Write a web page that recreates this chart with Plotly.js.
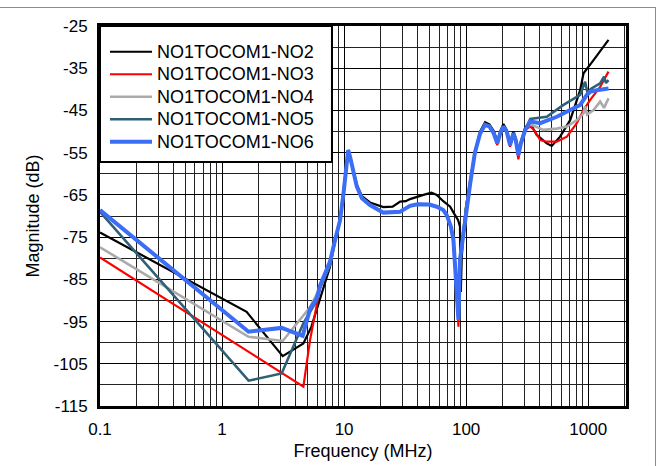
<!DOCTYPE html>
<html><head><meta charset="utf-8">
<script src="https://cdn.plot.ly/plotly-3.0.1.min.js"></script>
<style>
html,body{margin:0;padding:0;background:#fff}
#wrap{position:relative;width:658px;height:466px;overflow:hidden}
#chart{position:absolute;left:0;top:0;width:658px;height:466px}
#ft{position:absolute;left:0;top:7px;width:656px;height:1px;background:#8c8c8c}
#fr{position:absolute;left:655px;top:7px;width:1px;height:459px;background:#8c8c8c}
</style></head><body>
<div id="wrap"><div id="chart"></div><div id="ft"></div><div id="fr"></div></div>
<script>
// ---- data (frequency in MHz, magnitude in dB) ----
const seriesNames = ['NO1TOCOM1-NO2','NO1TOCOM1-NO3','NO1TOCOM1-NO4','NO1TOCOM1-NO5','NO1TOCOM1-NO6'];

const freqNO2 = [0.1,1.59,3.14,4.64,5.4,6.35,7.67,8.43,9.27,9.9,10.5,10.8,11.2,11.9,12.7,14,16.3,21,25,28.8,32,34.7,40,44.7,52,57.5,65,74,80,86,89,90.5,92,95,100,108,118,130,143,155,168,180,190,202,215,229,244,255,268,280,305,335,379,458,503,589,712,860,916,1107,1468];
const magNO2  = [-73.9,-92.7,-103.2,-100.2,-96.2,-89.9,-82,-76,-71,-64.6,-57.5,-54.6,-56,-59,-62.5,-65.3,-66.8,-67.9,-67.8,-66.6,-66.5,-66,-65.4,-65,-64.5,-65,-66.5,-67.8,-69.5,-71,-72.5,-88,-80,-74,-67.5,-62,-54.8,-50,-47.8,-48.3,-49.8,-52.2,-50,-48.2,-49.6,-52.8,-50,-51.6,-55,-52.5,-49,-48,-50.8,-52.8,-53.4,-51.2,-47.3,-40.2,-36.2,-33.1,-28.3];

const freqNO3 = [0.1,4.64,5.26,5.97,6.35,7.67,8.43,9.27,9.9,10.5,10.8,11.2,11.9,12.7,14,16.3,21,25,28.8,32,34.7,40,44.7,50,57.5,65,69.4,75,78.7,83,86.5,89,95,100,108,118,130,143,155,168,180,190,202,215,229,244,255,268,280,305,335,360,405,458,553,669,807,916,1039,1253,1468];
const magNO3  = [-79.8,-110.4,-99.4,-90.7,-87,-81.2,-75.8,-71,-64.6,-57.5,-54.4,-56,-59.1,-63,-65.8,-67.4,-69.2,-69.2,-69,-68.2,-67.6,-67.2,-67.2,-67.3,-67.8,-68.6,-69.8,-72.5,-75.7,-85,-96.2,-80.4,-74.1,-68,-62.3,-55,-50.5,-48.4,-48.8,-50.4,-53.2,-50.5,-48.8,-50,-53.6,-50.4,-52.4,-56.6,-53.2,-49.6,-48.8,-49.6,-52,-52.4,-52.4,-51.2,-48,-44.9,-42.5,-39.4,-35.8];

const freqNO4 = [0.1,1.65,3.14,5.26,6.35,7.67,8.43,9.27,9.9,10.5,10.8,11.2,11.9,12.7,14,16.3,21,25,28.8,32,34.7,40,44.7,50,57.5,65,69.4,75,78.7,83,86.5,89,95,100,108,118,130,143,155,168,180,190,202,215,229,244,255,268,280,305,335,431,553,669,807,916,944,980,1107,1253,1350,1468];
const magNO4  = [-77.4,-98.6,-99.6,-91.6,-87,-81.5,-75.8,-71,-64.6,-57.5,-54.4,-56,-59.1,-63,-65.8,-67.4,-69.2,-69.2,-69,-68.2,-67.6,-67.2,-67.2,-67.3,-67.8,-68.6,-69.8,-72.5,-75.7,-85,-94.6,-80.4,-74.1,-68,-62.3,-55,-50.5,-48.4,-48.8,-50.4,-52.8,-50.5,-48.8,-50,-53.2,-50.4,-52,-55.6,-53,-49.6,-48.3,-49.6,-49.3,-48.8,-47.3,-45.7,-44,-46,-44.9,-42.9,-44.4,-42.1];

const freqNO5 = [0.1,1.65,3.08,4.64,5.97,6.35,7.67,8.43,9.27,9.9,10.5,10.8,11.2,11.9,12.7,14,16.3,21,25,28.8,32,34.7,40,44.7,50,57.5,65,69.4,75,78.7,83,86.5,89,95,100,108,118,130,143,155,168,180,190,202,215,229,244,255,268,280,305,335,458,628,860,944,990,1050,1253,1350,1400,1468];
const magNO5  = [-69,-109,-107.3,-95.4,-90,-87,-81.5,-75.8,-71,-64.6,-57.5,-54.4,-56,-59.1,-63,-65.8,-67.4,-69.2,-69.2,-69,-68.2,-67.6,-67.2,-67.2,-67.3,-67.8,-68.6,-69.8,-72.5,-75.7,-85,-94.6,-80.4,-74.1,-68,-62.3,-55,-50.5,-48.4,-48.8,-50.4,-52.8,-50.5,-48.8,-50,-53.2,-50.4,-52,-55.6,-53,-49.6,-47,-46.5,-43.7,-41.3,-38.2,-41,-39.9,-38.6,-37,-38.5,-37.8];

const freqNO6 = [0.1,1.65,3.08,4.58,5.26,5.97,6.35,7.67,8.43,9.27,9.9,10.5,10.8,11.2,11.9,12.7,14,16.3,21,25,28.8,32,34.7,40,44.7,50,57.5,65,69.4,75,78.7,83,86.5,89,95,100,108,118,130,143,155,168,180,190,202,215,229,244,255,268,280,305,335,405,554,712,860,975,1050,1175,1468];
const magNO6  = [-68.6,-97.4,-96.5,-98.4,-92,-89.5,-86.5,-80.8,-75.7,-71,-64.6,-57.5,-54.4,-56,-59.1,-63,-65.8,-67.4,-69.2,-69.2,-69,-68.2,-67.6,-67.2,-67.2,-67.3,-67.8,-68.6,-69.8,-72.5,-75.7,-85,-94.6,-80.4,-74.1,-68,-62.3,-55,-50.5,-48.4,-48.8,-50.4,-52.8,-50.5,-48.8,-50,-53.2,-50.4,-52,-55.6,-53,-49.6,-47.6,-48,-46.5,-44.9,-43.7,-41.3,-40.5,-40.2,-39.8];

const xTickVals = [0.1, 1, 10, 100, 1000];
const xTickText = ['0.1', '1', '10', '100', '1000'];
const yTickVals = [-25, -35, -45, -55, -65, -75, -85, -95, -105, -115];
const yTickText = ['-25', '-35', '-45', '-55', '-65', '-75', '-85', '-95', '-105', '-115'];

// ---- styles ----
const seriesFreqs = [freqNO2, freqNO3, freqNO4, freqNO5, freqNO6];
const seriesMags  = [magNO2, magNO3, magNO4, magNO5, magNO6];
const seriesColors = ['#000000', '#ff0000', '#aaaaaa', '#2f6075', '#3b6ef5'];
const seriesWidths = [2.2, 2.2, 2.6, 2.6, 4];

const minorX = [];
for (let d = -1; d <= 3; d++) {
  for (let k = 2; k <= 9; k++) minorX.push(k * Math.pow(10, d));
}

const FONT = 'Liberation Sans, Arial, Helvetica, sans-serif';

const traces = seriesNames.map((n, i) => ({
  type: 'scatter', mode: 'lines',
  x: seriesFreqs[i], y: seriesMags[i],
  name: '<span style="font-size:18px">' + n + '</span>',
  line: {color: seriesColors[i], width: seriesWidths[i]}
}));

const layout = {
  width: 658, height: 466,
  margin: {l: 100, r: 32, t: 26, b: 60},
  paper_bgcolor: 'rgba(0,0,0,0)',
  plot_bgcolor: '#ffffff',
  font: {family: FONT, size: 17, color: '#000'},
  showlegend: true,
  legend: {
    x: 0.0095, y: 0.975, xanchor: 'left', yanchor: 'top',
    bgcolor: 'rgba(0,0,0,0)', borderwidth: 0,
    font: {family: FONT, size: 15, color: '#000'},
    itemwidth: 42
  },
  xaxis: {
    type: 'log', range: [-1, 3.31],
    tickmode: 'array', tickvals: xTickVals, ticktext: xTickText,
    ticks: '', ticklabelstandoff: 6,
    showgrid: true, gridcolor: '#000', gridwidth: 1,
    minor: {tickmode: 'array', tickvals: minorX, showgrid: true, gridcolor: '#222', gridwidth: 1, ticks: ''},
    showline: true, mirror: true, linecolor: '#000', linewidth: 3,
    zeroline: false,
    title: {text: 'Frequency (MHz)', font: {family: FONT, size: 18}, standoff: 6}
  },
  yaxis: {
    range: [-115, -25],
    tickmode: 'array', tickvals: yTickVals, ticktext: yTickText,
    ticks: '', ticklabelstandoff: 6,
    showgrid: true, gridcolor: '#000', gridwidth: 1,
    minor: {tickmode: 'linear', tick0: -25, dtick: 5, showgrid: true, gridcolor: '#222', gridwidth: 1, ticks: ''},
    showline: true, mirror: true, linecolor: '#000', linewidth: 3,
    zeroline: false,
    title: {text: 'Magnitude (dB)', font: {family: FONT, size: 18}, standoff: 10}
  },
  shapes: [{
    type: 'rect', xref: 'paper', yref: 'paper',
    x0: 0, x1: 0.441, y0: 0.642, y1: 1,
    fillcolor: '#ffffff', line: {color: '#000', width: 2}, layer: 'above'
  }]
};

Plotly.newPlot('chart', traces, layout, {staticPlot: true, displayModeBar: false});
</script>
</body></html>
